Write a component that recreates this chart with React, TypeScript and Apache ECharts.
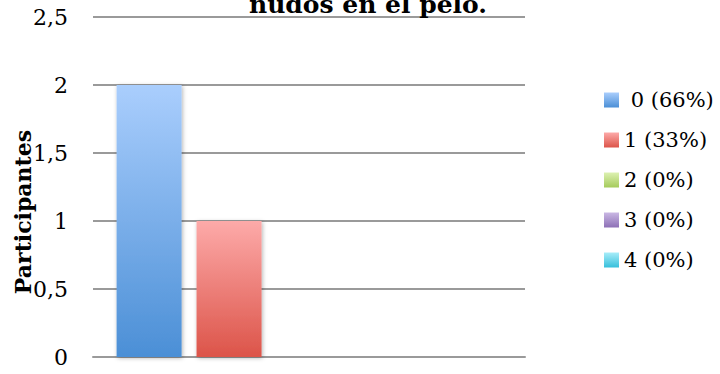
import React, { useEffect, useRef } from "react";
import * as echarts from "echarts";

const categories = [""];
const seriesNames = [" 0 (66%)", "1 (33%)", "2 (0%)", "3 (0%)", "4 (0%)"];
const seriesValues = [[2], [1], [0], [0], [0]];
const yTicks = ["0", "0,5", "1", "1,5", "2", "2,5"];
const titleText = "nudos en el pelo.";
const yAxisName = "Participantes";

const gradients: [string, string][] = [
  ["#aacefd", "#4b8fd6"],
  ["#fdaaa9", "#dc5449"],
  ["#ddf1b2", "#a5cb5b"],
  ["#cab8e4", "#8d70b6"],
  ["#a8edf9", "#36bfdb"],
];

export default function App() {
  const ref = useRef<HTMLDivElement>(null);
  useEffect(() => {
    if (!ref.current) return;
    const chart = echarts.init(ref.current, undefined, { renderer: "svg" });
    const serif = "'DejaVu Serif', serif";
    chart.setOption({
      animation: false,
      backgroundColor: "#ffffff",
      title: {
        text: titleText,
        left: 363,
        textAlign: "center",
        top: -14,
        textStyle: { fontFamily: serif, fontWeight: "bold", fontSize: 25, lineHeight: 26, color: "#000" },
      },
      graphic: [
        {
          type: "text",
          x: 23,
          y: 212,
          rotation: Math.PI / 2,
          style: {
            text: yAxisName,
            fontFamily: serif,
            fontWeight: "bold",
            fontSize: 22,
            fill: "#000",
            align: "center",
            verticalAlign: "middle",
          },
        },
      ],
      legend: {
        orient: "vertical",
        left: 599,
        top: 83,
        itemWidth: 15,
        itemHeight: 15,
        itemGap: 16,
        icon: "rect",
        textStyle: { fontFamily: serif, fontSize: 21, color: "#000", lineHeight: 24 },
        data: seriesNames,
      },
      grid: { left: 93, right: 195, top: 17, bottom: 17, containLabel: false },
      xAxis: {
        type: "category",
        data: categories,
        axisLine: { show: true, lineStyle: { color: "#9a9a9a", width: 2 } },
        axisTick: { show: false },
        axisLabel: { show: false },
      },
      yAxis: {
        type: "value",
        min: 0,
        max: 2.5,
        interval: 0.5,
        axisLine: { show: false },
        axisTick: { show: false },
        splitLine: { lineStyle: { color: "#9a9a9a", width: 2 } },
        axisLabel: {
          fontFamily: serif,
          fontSize: 22,
          color: "#000",
          margin: 25,
          formatter: (v: number) => yTicks[Math.round(v / 0.5)] ?? String(v),
        },
      },
      series: seriesNames.map((name, i) => ({
        name,
        type: "bar",
        data: seriesValues[i],
        barWidth: 65,
        barGap: "23%",
        itemStyle: {
          color: new echarts.graphic.LinearGradient(0, 0, 0, 1, [
            { offset: 0, color: gradients[i][0] },
            { offset: 1, color: gradients[i][1] },
          ]),
          shadowBlur: 4,
          shadowColor: "rgba(0,0,0,0.3)",
          shadowOffsetX: 1,
          shadowOffsetY: 1,
        },
      })),
    });
    return () => chart.dispose();
  }, []);
  return <div ref={ref} style={{ width: 720, height: 374, position: "absolute", left: 0, top: 0 }} />;
}
